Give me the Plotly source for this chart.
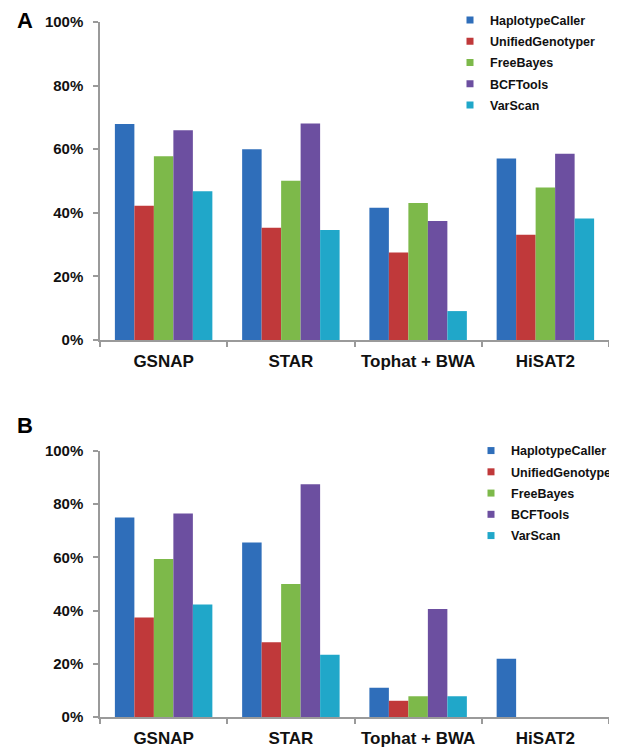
import plotly.graph_objects as go

categories = ["GSNAP", "STAR", "Tophat + BWA", "HiSAT2"]
callers = ["HaplotypeCaller", "UnifiedGenotyper", "FreeBayes", "BCFTools", "VarScan"]
colors = ["#2F6EBA", "#C0393A", "#7DB94A", "#6C4FA0", "#20A7C9"]

# Panel A values (%), one list per caller, in category order
a_haplotype = [67.9, 60.0, 41.6, 57.1]
a_unified = [42.2, 35.3, 27.5, 33.1]
a_freebayes = [57.8, 50.1, 43.1, 48.0]
a_bcftools = [66.0, 68.1, 37.4, 58.6]
a_varscan = [46.8, 34.6, 9.1, 38.2]

# Panel B values (%)
b_haplotype = [75.0, 65.6, 11.0, 21.9]
b_unified = [37.4, 28.1, 6.1, 0]
b_freebayes = [59.4, 50.0, 7.8, 0]
b_bcftools = [76.5, 87.5, 40.6, 0]
b_varscan = [42.3, 23.4, 7.8, 0]

y_ticks = [0, 20, 40, 60, 80, 100]
y_ticklabels = ["0%", "20%", "40%", "60%", "80%", "100%"]

panel_a = [a_haplotype, a_unified, a_freebayes, a_bcftools, a_varscan]
panel_b = [b_haplotype, b_unified, b_freebayes, b_bcftools, b_varscan]

FONT = "Liberation Sans, Arial, sans-serif"
AXIS_GRAY = "#9a9a9a"

fig = go.Figure()
for panel, xa, ya, lg, tag in [(panel_a, "x", "y", "legend", "a"), (panel_b, "x2", "y2", "legend2", "b")]:
    for i, name in enumerate(callers):
        fig.add_trace(go.Bar(x=categories, y=panel[i], name=name, marker_color=colors[i],
                             marker_line_width=0, xaxis=xa, yaxis=ya, showlegend=False,
                             legendgroup=tag + str(i)))
    # legend entries with small square swatches (no data points drawn)
    for i, name in enumerate(callers):
        fig.add_trace(go.Scatter(x=[None], y=[None], mode="markers", name=name,
                                 marker=dict(symbol="square", size=7, color=colors[i]),
                                 xaxis=xa, yaxis=ya, legend=lg, legendgroup=tag + str(i)))

xaxis_common = dict(
    type="category", showline=True, linecolor=AXIS_GRAY, linewidth=1.5,
    ticks="outside", tickson="boundaries", ticklen=5, tickcolor=AXIS_GRAY, tickwidth=1.5,
    showgrid=False, zeroline=False, ticklabelstandoff=5, tickangle=0, automargin=False,
    tickfont=dict(family=FONT, size=17, color="#111111", weight="bold"),
)
yaxis_common = dict(
    range=[0, 100], tickvals=y_ticks, ticktext=y_ticklabels,
    showline=True, linecolor=AXIS_GRAY, linewidth=1.5,
    ticks="outside", ticklen=5, tickcolor=AXIS_GRAY, tickwidth=1.5,
    showgrid=False, zeroline=False, ticklabelstandoff=7, automargin=False,
    tickfont=dict(family=FONT, size=15, color="#111111", weight="bold"),
)

legend_common = dict(
    font=dict(family=FONT, size=12.5, color="#111111", weight="bold"),
    bgcolor="rgba(0,0,0,0)", borderwidth=0, tracegroupgap=2,
    xanchor="left", yanchor="top", itemclick=False,
)

XEND = (601 - 92) / 517

fig.update_layout(
    width=609, height=742,
    margin=dict(l=92, r=0, t=14, b=33, autoexpand=False),
    paper_bgcolor="white", plot_bgcolor="white",
    barmode="group", bargap=0.234, bargroupgap=0,
    showlegend=True,
    xaxis=dict(domain=[0, XEND], anchor="y", **xaxis_common),
    yaxis=dict(domain=[0.5424, 1.0], anchor="x", **yaxis_common),
    xaxis2=dict(domain=[0, XEND], anchor="y2", **xaxis_common),
    yaxis2=dict(domain=[0.0, 0.3827], anchor="x2", **yaxis_common),
    legend=dict(x=(442 - 92) / 517, y=1.024, **legend_common),
    legend2=dict(x=(463 - 92) / 517, y=0.4044, **legend_common),
    annotations=[
        dict(text="A", xref="paper", yref="paper", x=-0.167 * 509 / 517, y=(709 - 12.5) / 695,
             xanchor="left", yanchor="middle",
             showarrow=False, font=dict(family=FONT, size=22, color="#000000", weight="bold")),
        dict(text="B", xref="paper", yref="paper", x=-0.167 * 509 / 517, y=(709 - 417.5) / 695,
             xanchor="left", yanchor="middle",
             showarrow=False, font=dict(family=FONT, size=22, color="#000000", weight="bold")),
    ],
)

fig.write_html("out.html")
